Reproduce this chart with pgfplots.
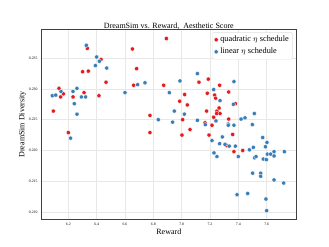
\documentclass[border=0pt]{standalone}
\usepackage{pgfplots}
\pgfplotsset{compat=1.18}
\usepackage{fontspec}
\setmainfont{Liberation Serif}
\definecolor{qred}{HTML}{E41A1C}
\definecolor{lblue}{HTML}{377EB8}
\begin{document}
\begin{tikzpicture}[x=1bp,y=1bp]
\useasboundingbox (-41bp,-27.7bp) rectangle (288bp,219.3bp);
\begin{axis}[
  at={(0,0)}, anchor=south west,
  scale only axis, width=255.7bp, height=190bp,
  xmin=6.007, xmax=7.812, ymin=0.2088, ymax=0.2397,
  xtick={6.2,6.4,6.6,6.8,7.0,7.2,7.4,7.6},
  ytick={0.210,0.215,0.220,0.225,0.230,0.235},
  xticklabel style={font=\fontsize{3.8bp}{4bp}\selectfont},
  yticklabel style={font=\fontsize{3.8bp}{4bp}\selectfont},
  x tick label style={/pgf/number format/.cd,fixed,fixed zerofill,precision=1},
  y tick label style={/pgf/number format/.cd,fixed,fixed zerofill,precision=3},
  /pgf/number format/assume math mode=true,
  major tick length=0pt,
  grid=major,
  grid style={line width=0.6bp, draw=gray!18},
  axis line style={line width=0.8bp, draw=black!75},
  title={DreamSim vs. Reward,\ \ Aesthetic Score},
  title style={font=\fontsize{8bp}{9bp}\selectfont, yshift=-10bp},
  xlabel={Reward},
  ylabel={DreamSim Diversity},
  xlabel style={font=\fontsize{8bp}{9bp}\selectfont, yshift=3.5bp},
  ylabel style={font=\fontsize{8bp}{9bp}\selectfont, yshift=-4bp},
  legend style={at={(0.985,0.985)}, anchor=north east, draw=gray!25, rounded corners=1.5bp,
    font=\fontsize{8.3bp}{9bp}\selectfont, row sep=0.8bp, inner sep=1.8bp},
  legend cell align=left,
  legend image post style={xshift=3bp},
  legend image code/.code={\draw[#1] plot coordinates {(0.45cm,0cm)};},
  tick label style={text=black},
]
\addplot[only marks, mark=*, mark size=2.1bp, mark options={fill=qred, draw=white, line width=0.3bp}] coordinates {
(6.094,0.2264) (6.134,0.2301) (6.146,0.2287) (6.165,0.2292) (6.200,0.2229)
(6.233,0.2287) (6.301,0.2328) (6.311,0.2294) (6.334,0.2366) (6.341,0.2329)
(6.416,0.2289) (6.431,0.2348) (6.466,0.2311) (6.652,0.2365) (6.661,0.2306)
(6.682,0.2333) (6.776,0.2257) (6.776,0.2229) (6.873,0.2306) (6.892,0.2382)
(6.986,0.2280) (7.007,0.2250) (7.002,0.2225) (7.021,0.2291) (7.040,0.2274)
(7.059,0.2234) (7.122,0.2311) (7.181,0.2293) (7.176,0.2264) (7.188,0.2316)
(7.165,0.2245) (7.193,0.2225) (7.214,0.2241) (7.226,0.2254) (7.233,0.2290)
(7.240,0.2285) (7.249,0.2264) (7.247,0.2260) (7.264,0.2269) (7.268,0.2306)
(7.271,0.2260) (7.318,0.2208) (7.332,0.2295) (7.332,0.2251) (7.360,0.2226)
(7.369,0.2198) (7.379,0.2276) (7.431,0.2200)
};
\addlegendentry{quadratic $\eta$ schedule}
\addplot[only marks, mark=*, mark size=2.1bp, mark options={fill=lblue, draw=white, line width=0.3bp}] coordinates {
(6.087,0.2289) (6.111,0.2290) (6.148,0.2296) (6.216,0.2220) (6.233,0.2296)
(6.242,0.2276) (6.261,0.2301) (6.261,0.2259) (6.292,0.2287) (6.322,0.2287)
(6.327,0.2371) (6.391,0.2338) (6.400,0.2352) (6.419,0.2345) (6.471,0.2334)
(6.600,0.2294) (6.689,0.2307) (6.741,0.2310) (6.835,0.2250) (6.913,0.2294)
(6.936,0.2246) (6.948,0.2264) (6.988,0.2313) (7.019,0.2259) (7.111,0.2325)
(7.111,0.2249) (7.167,0.2242) (7.214,0.2216) (7.226,0.2299) (7.228,0.2196)
(7.242,0.2248) (7.249,0.2190) (7.268,0.2211) (7.271,0.2281) (7.287,0.2222)
(7.306,0.2210) (7.329,0.2243) (7.329,0.2241) (7.336,0.2207) (7.365,0.2275)
(7.369,0.2241) (7.369,0.2312) (7.379,0.2207) (7.391,0.2128) (7.400,0.2190)
(7.419,0.2251) (7.447,0.2253) (7.466,0.2130) (7.478,0.2201) (7.499,0.2242)
(7.506,0.2205) (7.513,0.2260) (7.515,0.2188) (7.525,0.2190) (7.501,0.2163)
(7.558,0.2163) (7.558,0.2158) (7.572,0.2221) (7.576,0.2186) (7.591,0.2206)
(7.595,0.2121) (7.598,0.2185) (7.602,0.2213) (7.605,0.2194) (7.600,0.2102)
(7.628,0.2194) (7.652,0.2198) (7.652,0.2191) (7.652,0.2152) (7.720,0.2147)
(7.725,0.2198)
};
\addlegendentry{linear $\eta$ schedule}
\end{axis}
\end{tikzpicture}
\end{document}
